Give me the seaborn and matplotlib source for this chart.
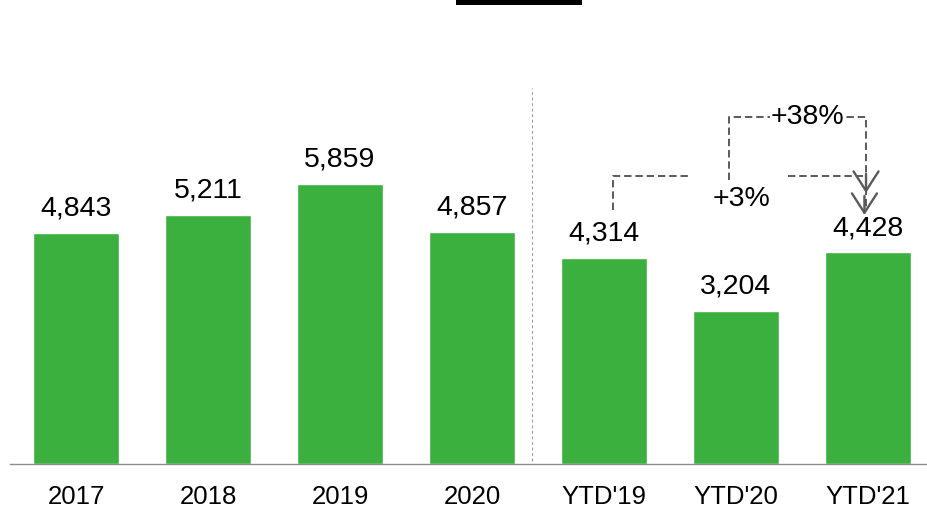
import matplotlib
matplotlib.use("Agg")
import matplotlib.pyplot as plt
import matplotlib.patches as mpatches
import pandas as pd
import seaborn as sns

# Volumes per period
categories = ["2017", "2018", "2019", "2020", "YTD'19", "YTD'20", "YTD'21"]
values = [4843, 5211, 5859, 4857, 4314, 3204, 4428]

# Growth callouts: (label, start category, end category)
growth_labels = ["+3%", "+38%"]
growth_from = ["YTD'19", "YTD'20"]
growth_to = ["YTD'21", "YTD'21"]

BAR_COLOR = "#3BB03F"
LINE_COLOR = "#5A5A5A"

sns.set_theme(style="white")
plt.rcParams["font.family"] = ["Liberation Sans", "DejaVu Sans"]

df = pd.DataFrame({"period": categories, "volume": values})

fig = plt.figure(figsize=(9.27, 5.08), dpi=100)
ax = fig.add_axes([10 / 927, 44 / 508, 924 / 927, 464 / 508])

sns.barplot(data=df, x="period", y="volume", color=BAR_COLOR, width=0.65,
            saturation=1, ax=ax, order=categories)

ax.set_xlim(-0.5, 6.5)
ax.set_ylim(0, 9707)
ax.set_xlabel("")
ax.set_ylabel("")
ax.set_yticks([])
for side in ("left", "right", "top"):
    ax.spines[side].set_visible(False)
ax.spines["bottom"].set_color("#8C8C8C")
ax.spines["bottom"].set_linewidth(1.0)
ax.tick_params(axis="x", length=0, pad=14.8, labelsize=18.5, labelcolor="black")

# Value labels above each bar
for i, v in enumerate(values):
    ax.annotate(f"{v:,}", xy=(i, v), xytext=(0, 12.2), textcoords="offset points",
                ha="center", va="baseline", fontsize=20.5, color="black")

# Separator between full years and year-to-date
ax.axvline(3.455, ymin=0.0065, ymax=0.81, color="#9A9A9A", lw=0.8,
           linestyle=(0, (2.5, 2.5)))

dash = (0, (3.8, 2))
pos = {c: i for i, c in enumerate(categories)}
val = dict(zip(categories, values))

def arrow_head(x, y_tip):
    ax.annotate("", xy=(x, y_tip), xytext=(x, y_tip + 400),
                arrowprops=dict(arrowstyle="->, head_length=0.7, head_width=0.45",
                                color=LINE_COLOR, lw=1.7, mutation_scale=20,
                                shrinkA=0, shrinkB=0))

# +3% bracket: YTD'19 -> YTD'21
x0 = pos[growth_from[0]] + 0.07
x1 = pos[growth_to[0]] - 0.015
y_low, y_top, y_tip = 5314, 6025, 5669
ax.plot([x0, x0, 4.645], [y_low, y_top, y_top], color=LINE_COLOR, lw=1.4, linestyle=dash)
ax.plot([5.395, x1, x1], [y_top, y_top, y_tip + 150], color=LINE_COLOR, lw=1.4,
        linestyle=dash)
arrow_head(x1, y_tip)
ax.text(5.045, 5544, growth_labels[0], ha="center", va="center", fontsize=20.5,
        color="black")

# +38% bracket: YTD'20 -> YTD'21
x0 = pos[growth_from[1]] - 0.053
y_low, y_top, y_tip = 5941, 7259, 5209
ax.plot([x0, x0, x1, x1], [y_low, y_top, y_top, y_tip + 150], color=LINE_COLOR,
        lw=1.4, linestyle=dash)
arrow_head(x1 - 0.012, y_tip)
ax.text(5.54, y_top, growth_labels[1], ha="center", va="center", fontsize=20.5,
        color="black", bbox=dict(fc="white", ec="none", pad=0.6))

# Title bar strip at the top edge
fig.patches.append(mpatches.Rectangle((456 / 927, 503 / 508), 126 / 927, 5 / 508,
                                      transform=fig.transFigure, fc="black",
                                      ec="none"))

fig.savefig("out.png", dpi=100)
